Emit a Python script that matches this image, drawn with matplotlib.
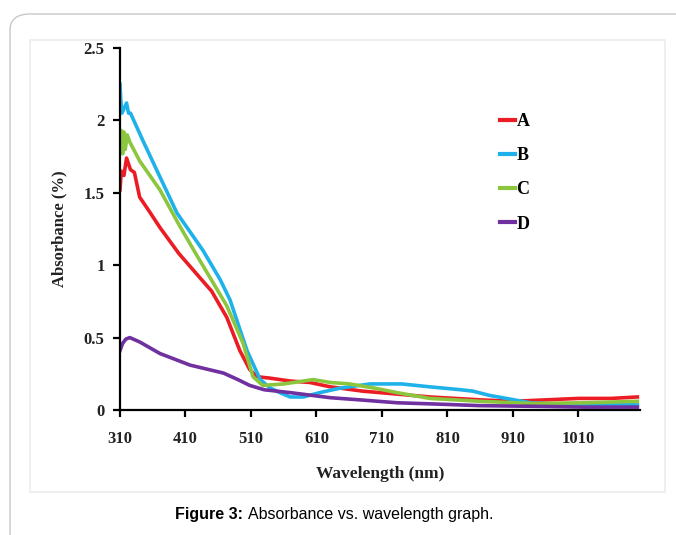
import matplotlib.pyplot as plt
from matplotlib.patches import FancyBboxPatch, Rectangle
import numpy as np

# values
wl_a = [310, 312, 316, 320, 326, 332, 340, 355, 371, 400, 425, 450, 473, 493, 508, 519, 539, 570, 600, 631, 681, 733, 783, 860, 910, 960, 1010, 1060, 1100]
abs_a = [1.52, 1.65, 1.62, 1.74, 1.66, 1.64, 1.47, 1.37, 1.26, 1.08, 0.95, 0.82, 0.64, 0.41, 0.28, 0.23, 0.22, 0.20, 0.19, 0.16, 0.13, 0.11, 0.09, 0.07, 0.06, 0.07, 0.08, 0.08, 0.09]

wl_b = [310, 311, 313, 316, 320, 323, 326, 345, 372, 397, 437, 463, 478, 504, 524, 540, 554, 570, 590, 615, 645, 676, 692, 740, 783, 830, 849, 875, 900, 936, 980, 1040, 1100]
abs_b = [2.25, 2.15, 2.05, 2.08, 2.12, 2.05, 2.05, 1.86, 1.60, 1.36, 1.10, 0.90, 0.76, 0.41, 0.21, 0.15, 0.12, 0.09, 0.09, 0.12, 0.15, 0.17, 0.18, 0.18, 0.16, 0.14, 0.13, 0.10, 0.08, 0.05, 0.04, 0.04, 0.035]

wl_c = [310, 312, 314, 316, 318, 321, 325, 340, 371, 400, 427, 452, 473, 498, 513, 528, 560, 605, 631, 661, 700, 733, 783, 860, 940, 1020, 1100]
abs_c = [1.80, 1.93, 1.77, 1.92, 1.80, 1.90, 1.85, 1.72, 1.52, 1.28, 1.07, 0.88, 0.72, 0.46, 0.23, 0.17, 0.18, 0.21, 0.19, 0.18, 0.15, 0.12, 0.08, 0.06, 0.045, 0.05, 0.06]

wl_d = [310, 314, 319, 325, 340, 371, 417, 468, 490, 508, 530, 570, 631, 676, 733, 800, 860, 950, 1020, 1100]
abs_d = [0.41, 0.46, 0.49, 0.50, 0.47, 0.39, 0.31, 0.255, 0.21, 0.17, 0.14, 0.12, 0.085, 0.07, 0.05, 0.04, 0.03, 0.025, 0.02, 0.02]

series = [("A", wl_a, abs_a, "#ec1c24"),
          ("B", wl_b, abs_b, "#1fb1ea"),
          ("C", wl_c, abs_c, "#8cc63f"),
          ("D", wl_d, abs_d, "#7030a0")]

xticks = [310, 410, 510, 610, 710, 810, 910, 1010]
yticks = [0, 0.5, 1, 1.5, 2, 2.5]
ytick_labels = ["0", "0.5", "1", "1.5", "2", "2.5"]

W, H = 676, 535
fig = plt.figure(figsize=(W / 100, H / 100), dpi=100)
fig.patch.set_facecolor("white")

# outer rounded frame and inner image border
fig.patches.append(FancyBboxPatch((10 / W, 1 - 560 / H), 700 / W, 546 / H,
                                  boxstyle="round,pad=0,rounding_size=0.03",
                                  transform=fig.transFigure, fill=False,
                                  edgecolor="#c8c8c8", linewidth=1.0))
fig.patches.append(Rectangle((30 / W, 1 - 492 / H), 635 / W, 452 / H,
                             transform=fig.transFigure, fill=False,
                             edgecolor="#ececec", linewidth=1.2))

ax = fig.add_axes([120 / W, 1 - 410 / H, 520 / W, 362 / H])

for name, x, y, c in series:
    ax.plot(x, y, color=c, lw=2.6, label=name, solid_joinstyle="round")

serif = ["Liberation Serif", "DejaVu Serif"]
ax.set_xlim(310, 1104)
ax.set_ylim(0, 2.5)
ax.set_xticks(xticks)
ax.set_yticks(yticks)
ax.set_yticklabels(ytick_labels)
for lab in ax.get_xticklabels() + ax.get_yticklabels():
    lab.set_family(serif)
    lab.set_fontweight("bold")
    lab.set_fontsize(12)
    lab.set_color("#222222")

ax.spines["top"].set_visible(False)
ax.spines["right"].set_visible(False)
ax.spines["left"].set_linewidth(1.6)
ax.spines["bottom"].set_linewidth(1.6)
ax.tick_params(axis="both", direction="out", length=5, width=1.6)
ax.tick_params(axis="x", pad=10)
ax.tick_params(axis="y", pad=6)

ax.set_xlabel("Wavelength (nm)", family=serif, fontweight="bold", fontsize=12.5,
              color="#222222", labelpad=14)
ax.set_ylabel("Absorbance (%)", family=serif, fontweight="bold", fontsize=12,
              color="#222222", labelpad=12)

leg = ax.legend(loc="upper left", bbox_to_anchor=(0.70, 0.865), frameon=False,
                handlelength=0.8, handletextpad=0.1, labelspacing=0.95,
                prop={"family": serif, "weight": "bold", "size": 13})
for line in leg.get_lines():
    line.set_linewidth(3)

fig.text(243 / W, 1 - 515 / H, "Figure 3:", ha="right", va="center",
         family=["Liberation Sans", "DejaVu Sans"], fontweight="bold", fontsize=11.5)
fig.text(248 / W, 1 - 515 / H, "Absorbance vs. wavelength graph.", ha="left", va="center",
         family=["Liberation Sans", "DejaVu Sans"], fontsize=11.5)

fig.savefig("out.png", dpi=100)
